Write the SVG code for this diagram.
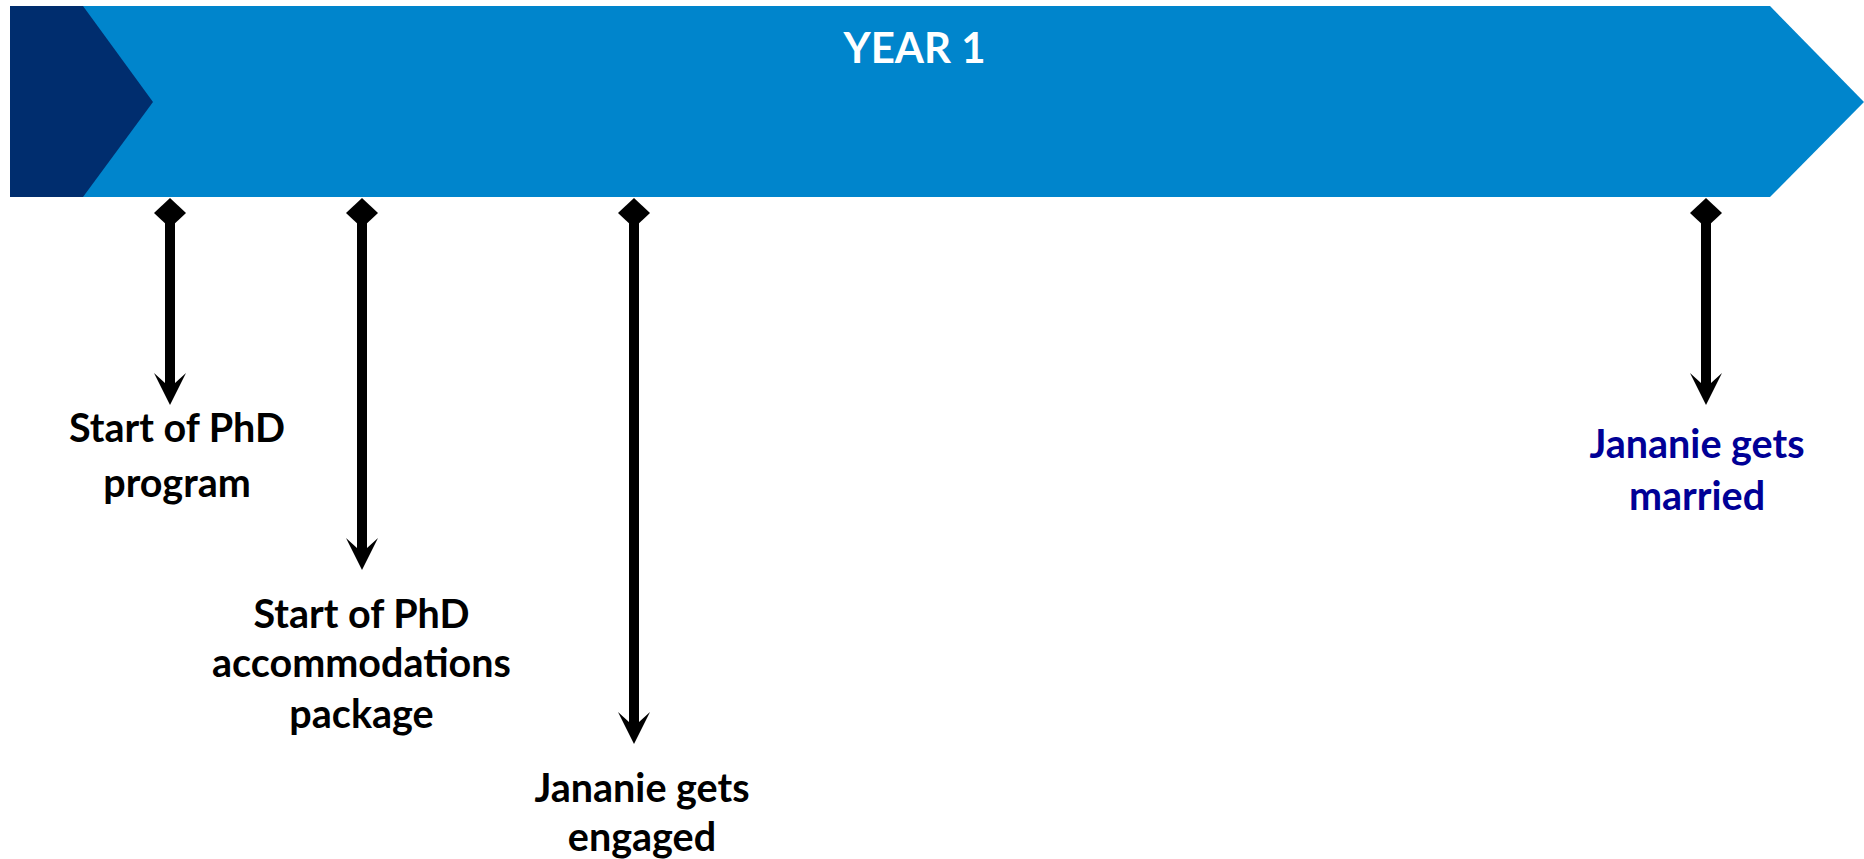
<svg xmlns="http://www.w3.org/2000/svg" width="1864" height="859" viewBox="0 0 1864 859">
  <style>
    .lbl { font-family: Lato, "Open Sans", "Liberation Sans", sans-serif; font-weight: 700; font-size: 39.5px; text-anchor: middle; fill: #000000; }
    .blue { fill: #000096; }
    .title { font-family: Lato, "Open Sans", "Liberation Sans", sans-serif; font-weight: 700; font-size: 42px; text-anchor: middle; fill: #ffffff; }
    .conn { stroke: #000000; stroke-width: 10; fill: none; marker-start: url(#diamond); marker-end: url(#head); }
  </style>
  <defs>
    <marker id="diamond" markerUnits="userSpaceOnUse" viewBox="-20 -20 40 40" markerWidth="40" markerHeight="40" refX="0" refY="0" orient="auto" overflow="visible">
      <path d="M-15,0 L0,-16 L15,0 L0,16 Z" fill="#000000"/>
    </marker>
    <marker id="head" markerUnits="userSpaceOnUse" viewBox="0 -20 40 40" markerWidth="40" markerHeight="40" refX="12" refY="0" orient="auto" overflow="visible">
      <path d="M32,0 L0,-16 L10,-5 L10,5 L0,16 Z" fill="#000000"/>
    </marker>
  </defs>

  <g id="timeline-bar">
    <polygon points="10,6 1770,6 1864,102 1770,197 10,197" fill="#0085CC"/>
    <polygon points="10,6 83,6 153,102 83,197 10,197" fill="#002D6E"/>
    <text class="title" x="914.5" y="63">YEAR 1</text>
  </g>

  <g id="connectors">
    <line class="conn" x1="170" y1="213" x2="170" y2="385"/>
    <line class="conn" x1="362" y1="213" x2="362" y2="550"/>
    <line class="conn" x1="634" y1="213" x2="634" y2="724"/>
    <line class="conn" x1="1706" y1="213" x2="1706" y2="385"/>
  </g>

  <g id="event-phd-program">
    <text class="lbl" x="177" y="442">Start of PhD</text>
    <text class="lbl" x="177" y="497">program</text>
  </g>

  <g id="event-accommodations">
    <text class="lbl" x="361.5" y="628">Start of PhD</text>
    <text class="lbl" x="361.5" y="677">accommodations</text>
    <text class="lbl" x="361.5" y="728">package</text>
  </g>

  <g id="event-engaged">
    <text class="lbl" x="642" y="802">Jananie gets</text>
    <text class="lbl" x="642" y="851">engaged</text>
  </g>

  <g id="event-married">
    <text class="lbl blue" x="1697" y="458">Jananie gets</text>
    <text class="lbl blue" x="1697" y="510">married</text>
  </g>
</svg>
